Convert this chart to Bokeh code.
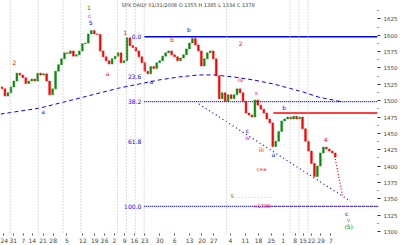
from bokeh.plotting import figure
from bokeh.models import Range1d, FixedTicker, Span
from bokeh.embed import file_html
from bokeh.resources import INLINE
from bokeh.core.properties import value

# ---------------- data ----------------
closes = [1518, 1507, 1512, 1521, 1530, 1542, 1539, 1535, 1526, 1530,
          1533, 1530, 1542, 1539, 1541, 1530, 1509, 1518, 1545, 1555,
          1564, 1573, 1572, 1576, 1568, 1570, 1576, 1587, 1588, 1602,
          1607, 1602, 1601, 1576, 1567, 1561, 1556, 1564, 1568, 1573,
          1558, 1561, 1596, 1584, 1581, 1576, 1567, 1558, 1545, 1541,
          1552, 1549, 1558, 1561, 1568, 1573, 1576, 1570, 1567, 1561,
          1565, 1570, 1579, 1588, 1595, 1585, 1576, 1553, 1564, 1573,
          1576, 1564, 1538, 1503, 1512, 1499, 1509, 1503, 1509, 1518,
          1512, 1499, 1481, 1478, 1475, 1501, 1493, 1487, 1481, 1472,
          1466, 1430, 1438, 1453, 1469, 1472, 1475, 1472, 1476, 1472,
          1475, 1457, 1438, 1423, 1404, 1384, 1400, 1420, 1429, 1426,
          1423, 1420, 1414]
opens = [1521, 1518, 1507, 1512, 1521, 1530, 1542, 1539, 1535, 1526,
         1530, 1533, 1530, 1542, 1539, 1541, 1530, 1509, 1518, 1545,
         1555, 1564, 1573, 1572, 1576, 1568, 1570, 1576, 1587, 1588,
         1602, 1607, 1602, 1601, 1576, 1567, 1561, 1556, 1564, 1568,
         1573, 1558, 1561, 1596, 1584, 1581, 1576, 1567, 1558, 1545,
         1541, 1552, 1549, 1558, 1561, 1568, 1573, 1576, 1570, 1567,
         1561, 1565, 1570, 1579, 1588, 1595, 1585, 1576, 1553, 1564,
         1573, 1576, 1564, 1538, 1503, 1512, 1499, 1509, 1503, 1509,
         1518, 1512, 1499, 1481, 1478, 1475, 1501, 1493, 1487, 1481,
         1472, 1466, 1430, 1438, 1453, 1469, 1472, 1475, 1472, 1476,
         1472, 1475, 1457, 1438, 1423, 1404, 1384, 1400, 1420, 1429,
         1426, 1423, 1420]

# long moving average (sampled readings)
ma_x = [-0.5, 6.2, 12.8, 19.5, 26.2, 32.8, 39.5, 46.2, 52.8, 59.5, 66.2,
        71.2, 77.8, 84.5, 91.2, 96.2, 101.2, 106.2, 111.2, 114.5]
ma_val = [1479.5, 1484.1, 1488.7, 1496.4, 1504.0, 1511.7, 1519.4, 1525.5,
          1531.6, 1536.2, 1539.3, 1539.3, 1536.2, 1531.6, 1525.5, 1519.4,
          1513.2, 1505.6, 1501.0, 1497.9]

# Fibonacci retracement
fib_high = 1597.6
fib_low = 1338.4
fib_ratios = [0.0, 23.6, 38.2, 61.8, 100.0]
fib_labels = ["0.0", "23.6", "38.2", "61.8", "100.0"]
fib_start = 47.8

red_level = 1481.0
red_level_start = 91.2
red_dot_start = 89.0

trend_x = [66.2, 117.2]
trend_y = [1494.8, 1346.1]
proj_x = [111.8, 114.5]
proj_y = [1415.0, 1353.7]

vlines = [2.8, 12.2, 20.5, 26.5, 38.8, 41.8, 44.8, 47.8, 75.5, 96.8, 99.8, 102.8]

lab_x = [29.2, 29.5, 29.8, 4.2, 35.5, 41.5, 57.2, 62.8, 50.2, 13.8, 80.2,
         80.2, 85.5, 94.8, 82.5, 82.5, 87.2, 91.2, 108.8, 115.8, 116.5, 116.5]
lab_y = [1642, 1630, 1619, 1559, 1542, 1604, 1594, 1608, 1530, 1484, 1587,
         1532, 1512, 1489, 1455, 1443, 1426, 1418, 1441, 1328, 1318, 1308]
lab_text = ["1", "c", "5", "2", "a", "1", "b", "b", "a", "a", "2",
            "iv", "x", "b", "c", "w", "iii", "a", "4", "c", "v", "(5)"]
GREEN, RED, BLUE, MAG = "#0a8a0a", "#ff0000", "#0000ff", "#ee22ee"
lab_color = [GREEN, MAG, BLUE, RED, RED, RED, RED, BLUE, BLUE, BLUE, RED,
             RED, MAG, BLUE, BLUE, MAG, RED, BLUE, RED, BLUE, MAG, GREEN]

y_ticks = [1300, 1325, 1350, 1375, 1400, 1425, 1450, 1475, 1500, 1525,
           1550, 1575, 1600, 1625]
x_tick_pos = [0.5, 3.8, 7.2, 10.2, 13.8, 17.2, 21.8, 27.2, 31.2, 34.5, 37.8,
              41.2, 44.5, 48.0, 53.0, 58.0, 63.0, 67.2, 71.2, 76.8, 81.8,
              86.2, 90.5, 94.5, 98.5, 101.2, 104.0, 107.2, 110.5]
x_tick_labels = ["24", "31", "7", "14", "21", "28", "5", "12", "19", "26",
                 "2", "9", "16", "23", "30", "6", "13", "20", "27", "4",
                 "11", "18", "25", "1", "8", "15", "22", "29", "7"]

title_text = "SPX DAILY 01/31/2008 O 1355 H 1385 L 1334 C 1378"

# ---------------- figure ----------------
FONT = value("DejaVu Sans")
p = figure(width=400, height=245, x_range=Range1d(-0.5, 126.2),
           y_range=Range1d(1297, 1653), output_backend="svg",
           toolbar_location=None, y_axis_location="right",
           min_border_left=0, min_border_top=0, min_border_right=0,
           min_border_bottom=0)
p.outline_line_color = None
p.xgrid.visible = False
p.ygrid.visible = False
p.background_fill_color = "white"

for v in vlines:
    p.add_layout(Span(location=v, dimension="height", line_color="#b8b8b8",
                      line_dash="1 2", line_width=1))

# moving average
p.line(ma_x, ma_val, line_color=BLUE, line_width=1.0, line_dash="4 3")

# fib lines
x_end = 126.2
fib_prices = [fib_high - (fib_high - fib_low) * r / 100.0 for r in fib_ratios]
p.segment(x0=[fib_start], y0=[fib_prices[0]], x1=[x_end], y1=[fib_prices[0]],
          line_color=BLUE, line_width=1.5)
p.segment(x0=[fib_start, fib_start], y0=[fib_prices[2], fib_prices[4]],
          x1=[x_end, x_end], y1=[fib_prices[2], fib_prices[4]],
          line_color=BLUE, line_width=1.2, line_dash="1 1")
p.segment(x0=[red_dot_start], y0=[fib_prices[4]], x1=[x_end], y1=[fib_prices[4]],
          line_color=RED, line_width=1.2, line_dash="1 3")
p.text(x=[fib_start - 1.0] * len(fib_prices), y=fib_prices, text=fib_labels,
       text_color=BLUE, text_font_size="6px", text_align="right",
       text_baseline="middle", text_font=FONT)

# red horizontal level
p.segment(x0=[red_level_start], y0=[red_level], x1=[x_end], y1=[red_level],
          line_color=RED, line_width=1.5)

# trend line & projection
p.line(trend_x, trend_y, line_color=BLUE, line_width=1.2, line_dash="1 3")
p.line(proj_x, proj_y, line_color=RED, line_width=1.3, line_dash="1 2")

# candles
bars = list(range(len(closes)))
tops = [max(o, c) for o, c in zip(opens, closes)]
bots = [min(o, c) for o, c in zip(opens, closes)]
cols = [GREEN if c >= o else RED for o, c in zip(opens, closes)]
p.vbar(x=bars, top=tops, bottom=bots, width=0.6, fill_color=cols,
       line_color=cols, line_width=0.5)

# wave labels
p.text(x=lab_x, y=lab_y, text=lab_text, text_color=lab_color,
       text_font_size="6px", text_align="center", text_baseline="middle",
       text_font=FONT)
p.text(x=[76.8], y=[1354], text=["S . . . . . . . . . . . ."], text_color=GREEN,
       text_font_size="5px", text_align="left", text_baseline="middle",
       text_font=FONT)
p.text(x=[84.5], y=[1339], text=["=1338"], text_color=RED,
       text_font_size="5px", text_align="left", text_baseline="middle",
       text_font=FONT)
p.text(x=[85.5], y=[1395], text=["c=a"], text_color=RED,
       text_font_size="5px", text_align="left", text_baseline="middle",
       text_font=FONT)

# title
p.text(x=[40.2], y=[1646], text=[title_text], text_color="#444444",
       text_font_size="5px", text_align="left", text_baseline="middle",
       text_font=FONT)

# axes
ya = p.yaxis[0]
ya.ticker = FixedTicker(ticks=y_ticks,
                        minor_ticks=[t + 12.5 for t in y_ticks])
ya.axis_line_color = None
ya.major_tick_line_color = "#333333"
ya.major_tick_out = 3
ya.major_tick_in = 0
ya.minor_tick_line_color = "#333333"
ya.minor_tick_out = 1
ya.minor_tick_in = 0
ya.major_label_text_font_size = "5.5px"
ya.major_label_text_color = "#444444"
ya.major_label_text_font = "DejaVu Sans"
ya.major_label_standoff = 3

xa = p.xaxis[0]
xa.ticker = FixedTicker(ticks=x_tick_pos)
xa.major_label_overrides = {t: s for t, s in zip(x_tick_pos, x_tick_labels)}
xa.axis_line_color = None
xa.major_tick_line_color = "#555555"
xa.major_tick_out = 2
xa.major_tick_in = 0
xa.minor_tick_line_color = None
xa.major_label_text_font_size = "6px"
xa.major_label_text_color = "#444444"
xa.major_label_text_font = "DejaVu Sans"
xa.major_label_standoff = 2

open("out.html", "w").write(file_html(p, INLINE))
